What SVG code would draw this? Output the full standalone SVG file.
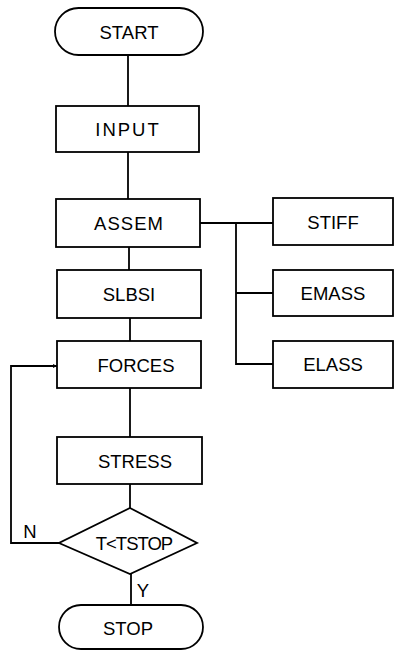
<svg xmlns="http://www.w3.org/2000/svg" width="395" height="650" viewBox="0 0 395 650">
<style>
.s{fill:#fff;stroke:#000;stroke-width:1.8}
.c{fill:none;stroke:#000;stroke-width:1.8}
text{font-family:"Liberation Sans",Arial,sans-serif;font-size:18.5px;fill:#000;text-anchor:middle}
</style>
<defs>
<marker id="ar" viewBox="0 0 10 10" refX="10" refY="5" markerWidth="7" markerHeight="4" orient="auto" markerUnits="userSpaceOnUse"><path d="M0,0 L10,5 L0,10 z" fill="#000"/></marker>
</defs>
<rect width="395" height="650" fill="#fff"/>
<g id="connectors">
<line class="c" x1="128" y1="55" x2="128" y2="106"/>
<line class="c" x1="128" y1="152" x2="128" y2="199"/>
<line class="c" x1="129" y1="247" x2="129" y2="270"/>
<line class="c" x1="130" y1="318" x2="130" y2="341"/>
<line class="c" x1="130" y1="388" x2="130" y2="437"/>
<line class="c" x1="130" y1="484" x2="130" y2="508"/>
<line class="c" x1="131" y1="574" x2="131" y2="605"/>
<polyline class="c" points="200,223 273,223"/>
<polyline class="c" points="236,223 236,364 273,364"/>
<line class="c" x1="236" y1="293" x2="273" y2="293"/>
<polyline class="c" points="59,543 11,543 11,366 57,366" marker-end="url(#ar)"/>
<text x="30" y="538">N</text>
<text x="143" y="597">Y</text>
</g>
<g id="start"><rect class="s" x="55" y="8" width="148" height="47" rx="23.5"/><text x="129" y="39">START</text></g>
<g id="input"><rect class="s" x="56" y="106" width="143" height="46"/><text x="128" y="136" letter-spacing="2">INPUT</text></g>
<g id="assem"><rect class="s" x="56" y="199" width="144" height="48"/><text x="129" y="230" letter-spacing="1">ASSEM</text></g>
<g id="stiff"><rect class="s" x="273" y="198" width="120" height="47"/><text x="333" y="229">STIFF</text></g>
<g id="emass"><rect class="s" x="273" y="270" width="120" height="46"/><text x="333" y="300">EMASS</text></g>
<g id="elass"><rect class="s" x="273" y="341" width="120" height="47"/><text x="333" y="371">ELASS</text></g>
<g id="slbsi"><rect class="s" x="57" y="270" width="144" height="48"/><text x="129" y="301">SLBSI</text></g>
<g id="forces"><rect class="s" x="57" y="341" width="144" height="47"/><text x="136" y="372">FORCES</text></g>
<g id="stress"><rect class="s" x="57" y="437" width="145" height="47"/><text x="135" y="468">STRESS</text></g>
<g id="decision"><polygon class="s" points="130,508 197,543 130,574 59,543"/><text x="134" y="550" letter-spacing="-1">T&lt;TSTOP</text></g>
<g id="stop"><rect class="s" x="59" y="605" width="144" height="44" rx="22"/><text x="128" y="635">STOP</text></g>
</svg>
